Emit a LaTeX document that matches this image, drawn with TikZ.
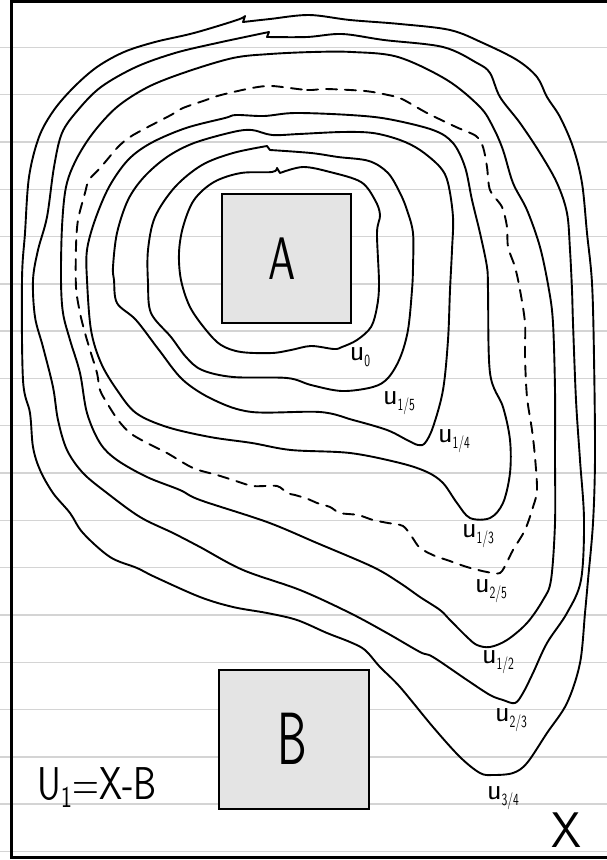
\documentclass[tikz,border=0pt]{standalone}
\usepackage{fontspec}
% narrow sans faces for the hand-lettered marks
\newfontfamily\narrowsf[FakeStretch=0.68]{lmsans10-regular.otf}
\newfontfamily\narrowersf[FakeStretch=0.6]{lmsans10-regular.otf}
\newfontfamily\formulasf[FakeStretch=0.75]{lmsans10-regular.otf}
\newfontfamily\widesf[FakeStretch=0.9]{lmsans10-regular.otf}
\definecolor{rulegray}{HTML}{D4D4D4}
\definecolor{boxgray}{HTML}{E4E4E4}
\newcommand{\lvsub}[1]{\raisebox{-6pt}{\fontsize{17}{17}\selectfont\narrowsf #1}}
\tikzset{
  contour/.style={line width=1.9pt, line join=round, line cap=round},
  dashcontour/.style={contour, dash pattern=on 11pt off 8pt},
  ruled/.style={line width=1.4pt, draw=rulegray},
  frameline/.style={line width=2.2pt},
  setbox/.style={draw=black, line width=2pt, fill=boxgray, minimum width=129pt, minimum height=129pt, inner sep=0pt},
  lvl/.style={font=\sffamily\fontsize{30}{30}\selectfont, inner sep=0pt},
  bigletter/.style={inner sep=0pt}
}
\begin{document}
\begin{tikzpicture}[x=1pt,y=-1pt]
\useasboundingbox (0,0) rectangle (607,860);
\fill[white] (0,0) rectangle (607,860);

% notebook rules
\foreach \k in {1,...,18}
  \draw[ruled] (0,47.3*\k) -- (607,47.3*\k);

% page frame
\draw[frameline] (607,1.5) -- (11.5,1.5) -- (11.5,857.5) -- (607,857.5);

% the two sets
\node[setbox] (setA) at (286.5,258.5) {};
\node[setbox, minimum width=150pt, minimum height=139pt] (setB) at (293.5,739.5) {};
\node[bigletter, font=\narrowsf\fontsize{60}{60}\selectfont] (letA) at (282,259) {A};
\node[bigletter, font=\narrowersf\fontsize{74}{74}\selectfont] (letB) at (292,739) {B};

% level sets, innermost first
% u_0
\draw[contour] plot[smooth, tension=0.55] coordinates {
 (280,173) (303,167) (330,172) (361,182) (375,200) (380,215) (377,233) (379,283)
 (377,307) (371,327) (357,340) (342,347) (334,349) (311,346) (291,350) (272,353)
 (241,352) (221,345) (206,330) (190,307) (181,280) (179,253) (183,227) (194,200)
 (214,182) (241,173) (272,172) (277,168)} -- cycle;
% u_{1/5}
\draw[contour] plot[smooth, tension=0.55] coordinates {
 (270,150) (311,153) (338,157) (369,161) (388,173) (400,193) (407,210) (413,233)
 (413,267) (412,290) (408,330) (400,358) (388,378) (373,387) (342,391) (311,385)
 (287,378) (233,377) (202,370) (186,357) (171,337) (151,313) (148,283) (148,250)
 (155,217) (175,187) (202,165) (233,153) (267,146)} -- cycle;
% u_{1/4}
\draw[contour] plot[smooth cycle, tension=0.55] coordinates {
 (252,130) (272,135) (299,134) (342,132) (373,133) (400,140) (420,150) (440,167)
 (448,183) (453,217) (452,250) (450,290) (448,340) (443,390) (433,427) (425,443)
 (418,445) (407,440) (387,430) (353,420) (320,412) (252,412) (214,400) (183,380)
 (159,350) (136,320) (117,303) (114,280) (113,267) (117,233) (128,200) (144,177)
 (167,157) (194,143) (233,132)};
% u_{1/3}
\draw[contour] plot[smooth cycle, tension=0.55] coordinates {
 (236,115) (264,116) (295,113) (350,115) (388,119) (433,130) (453,143) (465,167)
 (472,200) (480,233) (487,267) (488,290) (490,373) (503,407) (510,440) (510,473)
 (503,503) (490,518) (470,518) (457,503) (443,483) (427,472) (400,463) (350,453)
 (291,450) (252,443) (210,437) (167,427) (136,413) (117,390) (101,363) (91,330)
 (87,280) (87,250) (95,220) (109,187) (128,160) (151,143) (186,128) (225,118)};
% u_{2/5} (dashed)
\draw[dashcontour] plot[smooth cycle, tension=0.5] coordinates {
 (272,86) (307,90) (326,89) (365,91) (388,95) (402,99) (427,113) (456,127)
 (476,136) (483,147) (487,167) (490,190) (502,207) (507,227) (508,247) (515,267)
 (520,290) (525,323) (525,357) (527,397) (532,430) (535,457) (537,490) (533,507)
 (525,530) (513,550) (507,562) (500,573) (487,572) (467,567) (447,560) (435,556)
 (420,548) (412,537) (403,526) (388,523) (373,520) (358,515) (340,513) (330,507)
 (317,503) (308,499) (295,495) (287,493) (277,486) (253,486) (233,480) (217,475)
 (193,468) (167,453) (147,443) (130,433) (118,420) (107,403) (100,390) (97,373)
 (90,350) (85,333) (80,313) (76,287) (76,247) (78,220) (85,193) (89,180)
 (101,167) (118,147) (130,137) (146,128) (171,115) (183,108) (206,100) (221,95)
 (252,88)};
% u_{1/2}
\draw[contour] plot[smooth cycle, tension=0.55] coordinates {
 (270,54) (313,52) (352,52) (398,57) (447,80) (480,107) (493,127) (503,150)
 (513,183) (527,210) (540,247) (549,290) (553,323) (555,390) (555,457) (555,523)
 (551,580) (543,600) (527,623) (507,640) (490,647) (477,645) (467,637) (450,620)
 (440,610) (420,597) (400,583) (373,567) (317,543) (267,522) (200,500) (180,490)
 (147,477) (117,460) (100,443) (87,413) (80,373) (70,340) (63,313) (61,280)
 (62,227) (66,187) (76,160) (93,133) (117,107) (148,87) (186,72) (233,58)};
% u_{2/3}
\draw[contour] plot[smooth, tension=0.55] coordinates {
 (267,37) (307,37) (342,34) (384,40) (443,47) (477,63) (490,73) (500,97)
 (520,123) (540,153) (557,183) (567,213) (570,250) (572,290) (573,323) (576,400)
 (580,460) (584,520) (581,580) (567,613) (547,643) (533,673) (523,693) (515,703)
 (503,700) (490,695) (467,680) (433,657) (420,652) (387,633) (350,613) (300,590)
 (243,570) (200,547) (173,533) (140,517) (107,493) (83,473) (67,450) (58,420)
 (53,387) (43,347) (35,317) (33,280) (38,250) (47,217) (54,167) (62,133)
 (78,110) (101,87) (136,67) (175,53) (217,43) (269,32)} -- cycle;
% u_{3/4}
\draw[contour] plot[smooth, tension=0.55] coordinates {
 (243,22) (270,19) (309,15) (350,20) (400,24) (450,30) (483,43) (517,60)
 (537,77) (547,97) (560,117) (573,147) (582,183) (587,233) (592,283) (594,357)
 (595,457) (593,523) (588,580) (585,613) (580,663) (567,703) (547,733) (527,763)
 (513,773) (493,775) (480,773) (460,757) (433,727) (400,687) (380,667) (365,650)
 (350,642) (327,633) (297,620) (267,613) (233,607) (200,597) (155,577) (137,568)
 (110,557) (83,533) (70,513) (53,493) (40,470) (33,447) (30,413) (23,380)
 (22,280) (25,233) (29,177) (39,137) (54,110) (74,87) (97,67) (124,52)
 (155,42) (194,33) (237,20) (245,16)} -- cycle;

% level labels
\node[lvl] (lab0)  at (360,357) {u\lvsub{0}};
\node[lvl] (lab15) at (399,403) {u\lvsub{1/5}};
\node[lvl] (lab14) at (454,441) {u\lvsub{1/4}};
\node[lvl] (lab13) at (478,536) {u\lvsub{1/3}};
\node[lvl] (lab25) at (491,591) {u\lvsub{2/5}};
\node[lvl] (lab12) at (498,662) {u\lvsub{1/2}};
\node[lvl] (lab23) at (511,720) {u\lvsub{2/3}};
\node[lvl] (lab34) at (503,798) {u\lvsub{3/4}};

% the space and the formula
\node[bigletter, font=\widesf\fontsize{50}{50}\selectfont] (space) at (567,830) {X};
\node[bigletter, font=\formulasf\fontsize{46}{46}\selectfont, anchor=west] (formula) at (37,788)
  {U\raisebox{-8pt}{\fontsize{30}{30}\selectfont 1}=X-B};
\end{tikzpicture}
\end{document}
